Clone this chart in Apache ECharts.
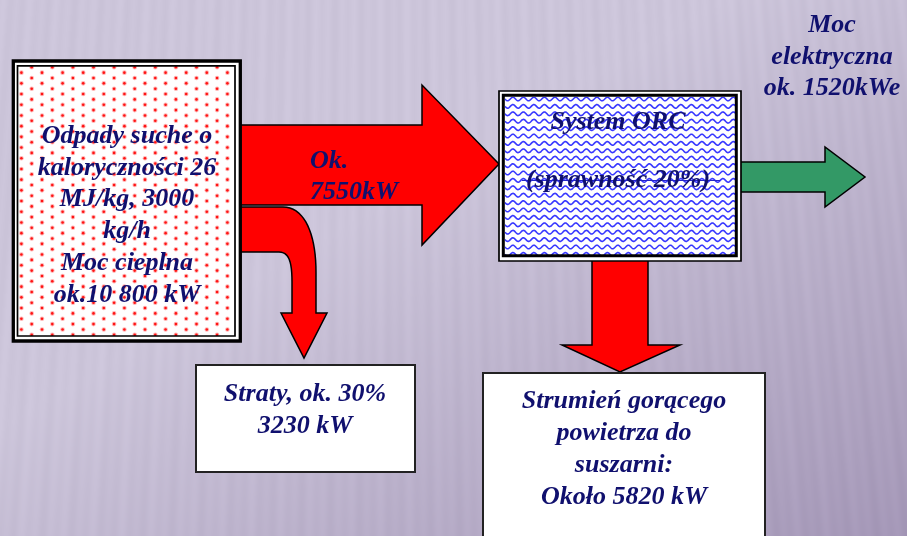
<!DOCTYPE html>
<html>
<head>
<meta charset="utf-8">
<script src="https://cdn.jsdelivr.net/npm/echarts@6/dist/echarts.min.js"></script>
<style>
  html, body { margin: 0; padding: 0; background: #c9c2d6; }
  #chart { width: 907px; height: 536px; }
</style>
</head>
<body>
<div id="chart"></div>
<script>
// Energy balance of an ORC unit fired with dry waste (values in kW)
const flowNames = ['Moc cieplna', 'Do systemu ORC', 'Straty', 'Gorące powietrze', 'Moc elektryczna'];
const flowKW = [10800, 7550, 3230, 5820, 1520];
const lossPercent = [30];
const orcEfficiencyPercent = [20];
const fuelHeatValueMJkg = [26];
const fuelMassFlowKgh = [3000];

const [inputKW, orcKW, lossKW, hotAirKW, electricKW] = flowKW;
const withSpace = v => String(v).replace(/\B(?=(\d{3})+(?!\d))/g, ' ');

// Text blocks built from the values above
const inputLines = ['Odpady suche o', 'kaloryczności ' + fuelHeatValueMJkg[0], 'MJ/kg, ' + fuelMassFlowKgh[0],
  'kg/h', 'Moc cieplna', 'ok.' + withSpace(inputKW) + ' kW'];
const orcLines = ['System ORC', '(sprawność ' + orcEfficiencyPercent[0] + '%)'];
const orcFlowLines = ['Ok.', orcKW + 'kW'];
const lossLines = ['Straty, ok. ' + lossPercent[0] + '%', lossKW + ' kW'];
const hotAirLines = ['Strumień gorącego', 'powietrza do', 'suszarni:', 'Około ' + hotAirKW + ' kW'];
const electricLines = ['Moc', 'elektryczna', 'ok. ' + electricKW + 'kWe'];

const W = 907, H = 536;
const FONT = 'italic bold 26px "Liberation Serif", "Times New Roman", serif';
const NAVY = '#10106e';

// ---- textures drawn on offscreen canvases ----
function makeCanvas(w, h) {
  const c = document.createElement('canvas');
  c.width = w; c.height = h;
  return c;
}

// Lavender backdrop with soft, slightly fanned stripes
function backdrop() {
  const c = makeCanvas(W, H), ctx = c.getContext('2d');
  const img = ctx.createImageData(W, H);
  const c0 = [204, 197, 218], c1 = [164, 151, 183];
  for (let y = 0; y < H; y++) {
    for (let x = 0; x < W; x++) {
      let t = (x / W + y / H - 0.8) / 1.2;
      t = Math.max(0, Math.min(1, t));
      const u = 380 + (x - 380) * 5000 / (y + 5000);
      const s = 0.6 * Math.sin(2 * Math.PI * u / 13) + 0.4 * Math.sin(2 * Math.PI * u / 29 + 1.3);
      const d = s * 3.2;
      const i = (y * W + x) * 4;
      img.data[i] = c0[0] + (c1[0] - c0[0]) * t + d;
      img.data[i + 1] = c0[1] + (c1[1] - c0[1]) * t + d;
      img.data[i + 2] = c0[2] + (c1[2] - c0[2]) * t + d;
      img.data[i + 3] = 255;
    }
  }
  ctx.putImageData(img, 0, 0);
  return c;
}

// White field with a staggered lattice of red dots
function dotField(w, h, ox, oy) {
  const c = makeCanvas(w, h), ctx = c.getContext('2d');
  ctx.fillStyle = '#fff';
  ctx.fillRect(0, 0, w, h);
  const dx = 10.3, dy = 10.7;
  for (let col = -1; col * dx + ox < w + dx; col++) {
    const x = ox + col * dx;
    const y0 = oy + ((col & 1) ? -dy / 2 : 0);
    for (let y = y0 - dy; y < h + dy; y += dy) {
      ctx.fillStyle = 'rgba(255,90,90,0.45)';
      ctx.beginPath(); ctx.arc(x, y, 2.3, 0, Math.PI * 2); ctx.fill();
      ctx.fillStyle = '#ff1414';
      ctx.beginPath(); ctx.arc(x, y, 1.3, 0, Math.PI * 2); ctx.fill();
    }
  }
  return c;
}

// White field with rows of blue waves
function waveField(w, h) {
  const c = makeCanvas(w, h), ctx = c.getContext('2d');
  ctx.fillStyle = '#fff';
  ctx.fillRect(0, 0, w, h);
  ctx.strokeStyle = '#3838ff';
  ctx.lineWidth = 1.6;
  for (let y = 2; y < h + 4; y += 7.4) {
    ctx.beginPath();
    for (let x = 0; x <= w; x += 0.5) {
      const yy = y + 1.8 * Math.sin(2 * Math.PI * x / 10.5);
      if (x === 0) ctx.moveTo(x, yy); else ctx.lineTo(x, yy);
    }
    ctx.stroke();
  }
  return c;
}

function cubic(p0, p1, p2, p3, n) {
  const pts = [];
  for (let i = 1; i <= n; i++) {
    const t = i / n, m = 1 - t;
    pts.push([
      m * m * m * p0[0] + 3 * m * m * t * p1[0] + 3 * m * t * t * p2[0] + t * t * t * p3[0],
      m * m * m * p0[1] + 3 * m * m * t * p1[1] + 3 * m * t * t * p2[1] + t * t * t * p3[1]
    ]);
  }
  return pts;
}

// ---- shapes ----
const arrowStyle = (fill) => ({ fill: fill, stroke: '#000', lineWidth: 1.5, lineJoin: 'miter' });

const mainArrow = [[238, 125], [422, 125], [422, 85], [499, 164], [422, 245], [422, 205], [238, 205]];
const lossArrow = [[238, 207], [283, 207]]
  .concat(cubic([283, 207], [305, 207], [316, 235], [316, 272], 18))
  .concat([[316, 313], [327, 313], [304, 358], [281, 313], [292, 313], [292, 282]])
  .concat(cubic([292, 282], [292, 262], [289, 252], [279, 252], 12))
  .concat([[238, 252]]);
const hotAirArrow = [[592, 258], [648, 258], [648, 345], [680, 345], [620, 372], [562, 345], [592, 345]];
const electricArrow = [[738, 162], [825, 162], [825, 147], [865, 177], [825, 207], [825, 192], [738, 192]];

function textLines(lines, x, baselines, align) {
  return lines.map((t, i) => ({
    type: 'text', x: x, y: baselines[i] - 6.5, z: 20,
    style: { text: t, font: FONT, fill: NAVY, align: align || 'center', verticalAlign: 'middle' }
  }));
}

const elements = [
  { type: 'image', x: 0, y: 0, z: 0, style: { image: backdrop(), x: 0, y: 0, width: W, height: H } },

  { type: 'polygon', z: 2, shape: { points: mainArrow }, style: arrowStyle('#ff0000') },
  { type: 'polygon', z: 2, shape: { points: lossArrow }, style: arrowStyle('#ff0000') },
  { type: 'polygon', z: 2, shape: { points: hotAirArrow }, style: arrowStyle('#ff0000') },
  { type: 'polygon', z: 2, shape: { points: electricArrow }, style: arrowStyle('#339966') },

  // fuel input box
  { type: 'rect', z: 5, shape: { x: 13.3, y: 61, width: 227, height: 280 },
    style: { fill: '#fff', stroke: '#000', lineWidth: 3.3 } },
  { type: 'image', z: 6, style: { image: dotField(217, 270, 13.7, 12), x: 18, y: 66, width: 217, height: 270 } },
  { type: 'rect', z: 7, shape: { x: 17.5, y: 65.8, width: 217.5, height: 270.2 },
    style: { fill: null, stroke: '#000', lineWidth: 1.7 } },

  // ORC box
  { type: 'rect', z: 5, shape: { x: 499, y: 91, width: 242, height: 170 },
    style: { fill: '#fff', stroke: '#000', lineWidth: 1.7 } },
  { type: 'image', z: 6, style: { image: waveField(231, 158), x: 505, y: 97, width: 231, height: 158 } },
  { type: 'rect', z: 7, shape: { x: 503.3, y: 95.3, width: 233, height: 160.5 },
    style: { fill: null, stroke: '#000', lineWidth: 3 } },
  { type: 'line', z: 8, shape: { x1: 522, y1: 180.5, x2: 720, y2: 180.5 },
    style: { stroke: '#2424c8', lineWidth: 1.2 } },

  // losses box
  { type: 'rect', z: 5, shape: { x: 196, y: 365, width: 219, height: 107 },
    style: { fill: '#fff', stroke: '#222', lineWidth: 2 } },
  // hot air box
  { type: 'rect', z: 5, shape: { x: 483, y: 373, width: 282, height: 200 },
    style: { fill: '#fff', stroke: '#222', lineWidth: 2 } }
]
  .concat(textLines(inputLines, 127, [143, 175, 206, 238, 270, 301.5]))
  .concat(textLines(orcLines, 618, [128.3, 187]))
  .concat(textLines(orcFlowLines, 310, [167.3, 198.3], 'left'))
  .concat(textLines(lossLines, 305, [400.7, 432.3]))
  .concat(textLines(hotAirLines, 624, [407.3, 439.3, 471.7, 503.3]))
  .concat(textLines(electricLines, 832, [31.7, 63.3, 95]));

const chart = echarts.init(document.getElementById('chart'), null, { renderer: 'canvas', width: W, height: H });
chart.setOption({
  backgroundColor: '#c9c2d6',
  animation: false,
  graphic: { elements: elements }
});
</script>
</body>
</html>
